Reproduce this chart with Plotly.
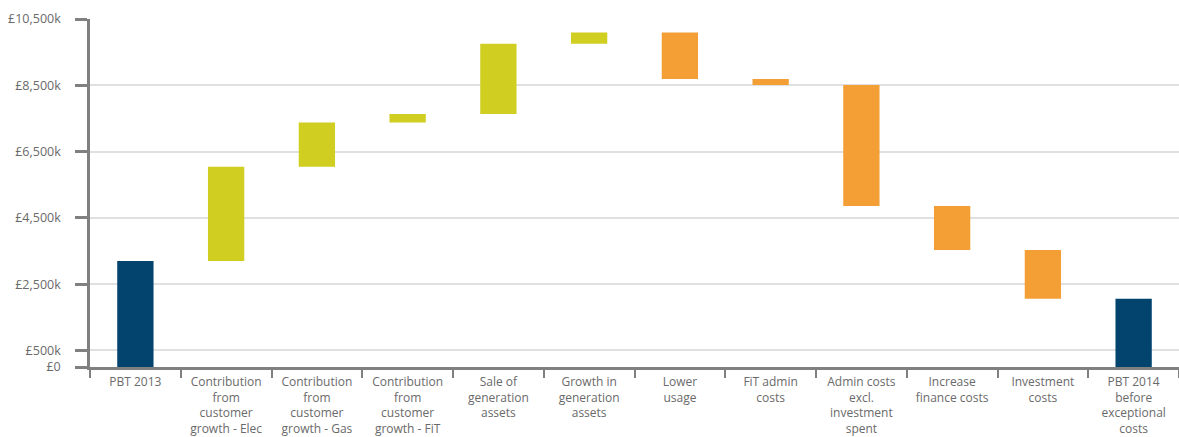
import plotly.graph_objects as go

categories = [
    "PBT 2013",
    "Contribution<br>from<br>customer<br>growth - Elec",
    "Contribution<br>from<br>customer<br>growth - Gas",
    "Contribution<br>from<br>customer<br>growth - FiT",
    "Sale of<br>generation<br>assets",
    "Growth in<br>generation<br>assets",
    "Lower<br>usage",
    "FiT admin<br>costs",
    "Admin costs<br>excl.<br>investment<br>spent",
    "Increase<br>finance costs",
    "Investment<br>costs",
    "PBT 2014<br>before<br>exceptional<br>costs",
]
measures = ["absolute", "relative", "relative", "relative", "relative", "relative",
            "relative", "relative", "relative", "relative", "relative", "total"]
values = [3200, 2840, 1340, 250, 2120, 340, -1400, -180, -3650, -1330, -1470, 0]

y_tickvals = [0, 500, 2500, 4500, 6500, 8500, 10500]
y_ticktext = ["£0", "£500k", "£2,500k", "£4,500k", "£6,500k", "£8,500k", "£10,500k"]

NAVY = "#02446E"
LIME = "#CFCE21"
ORANGE = "#F49F35"
AXIS = "#808080"
TEXT = "#6A6A6A"

fig = go.Figure(go.Waterfall(
    x=categories,
    y=values,
    measure=measures,
    width=0.4,
    increasing=dict(marker=dict(color=LIME)),
    decreasing=dict(marker=dict(color=ORANGE)),
    totals=dict(marker=dict(color=NAVY)),
    connector=dict(visible=False),
    hoverinfo="skip",
    showlegend=False,
))

fig.update_layout(
    width=1179, height=437,
    margin=dict(l=90, r=0, t=19, b=68),
    paper_bgcolor="white", plot_bgcolor="white",
    font=dict(family="Open Sans", color=TEXT, size=12.5),
    xaxis=dict(
        type="category",
        range=[-0.5, 11.5],
        showline=True, linecolor=AXIS, linewidth=2.5,
        ticks="outside", tickson="boundaries", ticklen=8, tickwidth=2, tickcolor=AXIS,
        ticklabelstandoff=2,
        showgrid=False,
        tickfont=dict(family="Open Sans", size=12, color=TEXT),
        tickangle=0,
    ),
    yaxis=dict(
        range=[0, 10500],
        tickvals=y_tickvals, ticktext=y_ticktext,
        showline=True, linecolor=AXIS, linewidth=2.5,
        ticks="outside", ticklen=12, tickwidth=2.5, tickcolor=AXIS,
        ticklabelstandoff=12,
        showgrid=True, gridcolor="#E0E0E0", gridwidth=2,
        zeroline=False,
        tickfont=dict(family="Open Sans", size=12.5, color=TEXT),
    ),
)

fig.write_html("out.html")
